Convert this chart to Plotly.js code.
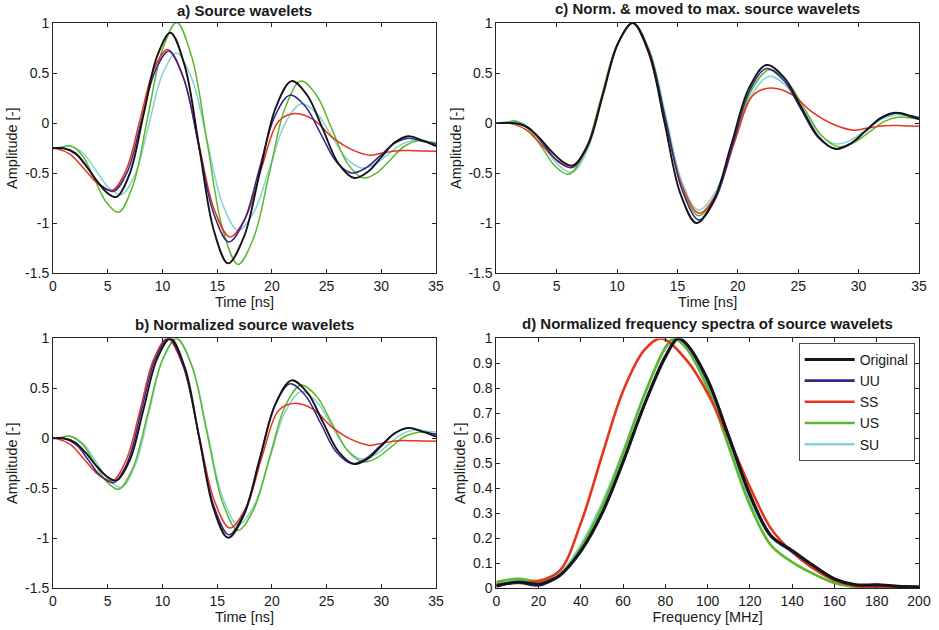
<!DOCTYPE html>
<html><head><meta charset="utf-8">
<script src="https://cdn.plot.ly/plotly-3.0.1.min.js"></script>
<style>html,body{margin:0;padding:0;background:#fff}#chart{width:939px;height:630px}</style>
</head><body><div id="chart"></div>
<script>
// ---------- tick labels ----------
const timeTicks = [0,5,10,15,20,25,30,35];
const timeTickText = ['0','5','10','15','20','25','30','35'];
const ampTicks = [-1.5,-1,-0.5,0,0.5,1];
const ampTickText = ['-1.5','-1','-0.5','0','0.5','1'];
const freqTicks = [0,20,40,60,80,100,120,140,160,180,200];
const freqTickText = ['0','20','40','60','80','100','120','140','160','180','200'];
const specTicks = [0,0.1,0.2,0.3,0.4,0.5,0.6,0.7,0.8,0.9,1];
const specTickText = ['0','0.1','0.2','0.3','0.4','0.5','0.6','0.7','0.8','0.9','1'];

// ---------- a) Source wavelets ----------
const tA_Orig = [0,1,2,3,4,5,5.8,7.03,8.27,9.5,10.73,12.05,13.37,14.68,16.0,17.45,18.9,20.35,21.8,23.23,24.67,26.1,27.53,28.77,30.0,31.24,32.47,33.7,35];
const vA_Orig = [-0.25,-0.252,-0.295,-0.42,-0.575,-0.70,-0.737,-0.498,0.083,0.664,0.903,0.567,-0.249,-1.064,-1.40,-1.134,-0.49,0.154,0.42,0.279,-0.063,-0.406,-0.547,-0.486,-0.339,-0.191,-0.13,-0.17,-0.23];
const tA_UU = [0,1.0,2.14,3.28,4.41,5.55,6.81,8.07,9.32,10.58,11.95,13.33,14.7,16.07,17.47,18.86,20.26,21.65,23.06,24.48,25.89,27.3,28.6,29.9,31.2,32.5,33.7,35];
const vA_UU = [-0.25,-0.25,-0.314,-0.469,-0.623,-0.68,-0.482,0.017,0.515,0.72,0.442,-0.234,-0.909,-1.187,-0.973,-0.454,0.066,0.28,0.167,-0.109,-0.384,-0.497,-0.446,-0.324,-0.201,-0.15,-0.18,-0.21];
const tA_SS = [0,0.3,1.58,2.87,4.15,5.43,6.69,7.95,9.2,10.46,11.89,13.31,14.74,16.16,17.65,19.13,20.62,22.1,23.8,25.5,27.2,28.96,30.0,31.5,33,35];
const vA_SS = [-0.25,-0.252,-0.311,-0.46,-0.609,-0.67,-0.465,0.033,0.531,0.736,0.463,-0.2,-0.864,-1.137,-0.93,-0.42,0.02,0.096,0.035,-0.14,-0.259,-0.32,-0.30,-0.275,-0.275,-0.28];
const tA_US = [0,0.8,1.55,2.66,3.78,4.89,6.0,7.33,8.65,9.98,11.3,12.7,14.1,15.5,16.9,18.34,19.78,21.21,22.65,24.08,25.5,26.93,28.36,29.62,30.88,32.14,33.4,34.2,35];
const vA_US = [-0.25,-0.24,-0.224,-0.321,-0.557,-0.793,-0.89,-0.613,0.058,0.729,1.006,0.653,-0.202,-1.057,-1.41,-1.143,-0.495,0.153,0.42,0.279,-0.064,-0.406,-0.547,-0.493,-0.36,-0.228,-0.174,-0.182,-0.20];
const tA_SU = [0,0.8,1.6,2.76,3.93,5.09,6.25,7.51,8.77,10.02,11.28,12.69,14.1,15.51,16.92,18.37,19.81,21.26,22.7,24.08,25.45,26.83,28.2,29.43,30.65,31.88,33.1,34,35];
const vA_SU = [-0.25,-0.24,-0.23,-0.30,-0.472,-0.643,-0.714,-0.508,-0.007,0.494,0.70,0.442,-0.185,-0.812,-1.07,-0.886,-0.439,0.009,0.193,0.10,-0.127,-0.354,-0.447,-0.407,-0.309,-0.21,-0.17,-0.18,-0.19];

// ---------- b) Normalized source wavelets ----------
const vB_Orig = [0,-0.002,-0.039,-0.147,-0.282,-0.39,-0.422,-0.215,0.289,0.793,1.0,0.708,0.001,-0.706,-0.997,-0.767,-0.208,0.35,0.581,0.459,0.162,-0.135,-0.258,-0.205,-0.077,0.051,0.104,0.069,0.017];
const vB_UU = [0,0,-0.066,-0.226,-0.385,-0.443,-0.239,0.275,0.789,1.0,0.713,0.016,-0.679,-0.966,-0.745,-0.21,0.326,0.546,0.43,0.146,-0.138,-0.254,-0.202,-0.076,0.05,0.103,0.072,0.041];
const vB_SS = [0,-0.002,-0.062,-0.213,-0.364,-0.426,-0.218,0.279,0.792,1.0,0.723,0.05,-0.623,-0.9,-0.69,-0.172,0.279,0.351,0.289,0.112,-0.009,-0.071,-0.051,-0.025,-0.025,-0.03];
const vB_US = [0,0.008,0.021,-0.057,-0.244,-0.432,-0.51,-0.289,0.245,0.779,1.0,0.719,0.038,-0.643,-0.924,-0.711,-0.195,0.321,0.533,0.421,0.148,-0.124,-0.236,-0.193,-0.088,0.018,0.061,0.054,0.04];
const vB_SU = [0,0.011,0.021,-0.053,-0.235,-0.416,-0.491,-0.273,0.257,0.787,1.0,0.732,0.069,-0.595,-0.868,-0.673,-0.2,0.274,0.469,0.37,0.13,-0.11,-0.208,-0.166,-0.063,0.042,0.085,0.074,0.063];

// ---------- c) Norm. & moved to max. ----------
const tC_Orig = [0,0.57,1.57,2.57,3.57,4.57,5.57,6.37,7.6,8.84,10.07,11.3,12.62,13.94,15.25,16.57,18.02,19.47,20.92,22.37,23.8,25.24,26.67,28.1,29.34,30.57,31.81,33.04,34.27,35];
const vC_Orig = [0,0,-0.002,-0.039,-0.147,-0.282,-0.39,-0.422,-0.215,0.289,0.793,1.0,0.708,0.001,-0.706,-0.997,-0.767,-0.208,0.35,0.581,0.459,0.162,-0.135,-0.258,-0.205,-0.077,0.051,0.104,0.069,0.04];
const tC_UU = [0,0.72,1.72,2.86,4.0,5.13,6.27,7.53,8.79,10.04,11.3,12.67,14.05,15.42,16.79,18.19,19.58,20.98,22.37,23.78,25.2,26.61,28.02,29.32,30.62,31.92,33.22,34.42,35];
const vC_UU = [0,0,0,-0.066,-0.226,-0.385,-0.443,-0.239,0.275,0.789,1.0,0.713,0.016,-0.679,-0.966,-0.745,-0.21,0.326,0.546,0.43,0.146,-0.138,-0.254,-0.202,-0.076,0.05,0.103,0.072,0.055];
const tC_SS = [0,0.84,1.14,2.42,3.71,4.99,6.27,7.53,8.79,10.04,11.3,12.53,13.95,15.38,16.8,18.29,19.77,21.26,22.74,24.44,26.14,27.84,29.6,30.64,32.14,33.64,35];
const vC_SS = [0,0,-0.002,-0.062,-0.213,-0.364,-0.426,-0.218,0.279,0.792,1.0,0.723,0.05,-0.623,-0.9,-0.69,-0.172,0.279,0.351,0.289,0.112,-0.009,-0.071,-0.051,-0.025,-0.025,-0.03];
const tC_US = [0,0.8,1.55,2.66,3.78,4.89,6.0,7.33,8.65,9.98,11.3,12.66,14.02,15.38,16.75,18.2,19.65,21.1,22.6,24.05,25.5,26.93,28.3,29.6,30.88,32.14,33.35,34.2,35];
const vC_US = [0,0.008,0.021,-0.057,-0.244,-0.432,-0.51,-0.289,0.245,0.779,1.0,0.719,0.038,-0.643,-0.924,-0.711,-0.195,0.321,0.533,0.421,0.148,-0.124,-0.236,-0.193,-0.088,0.018,0.061,0.054,0.04];
const tC_SU = [0,0.82,1.62,2.78,3.95,5.11,6.27,7.53,8.79,10.04,11.3,12.67,14.04,15.4,16.75,18.2,19.65,21.1,22.6,24.02,25.42,26.8,28.15,29.4,30.65,31.88,33.1,34,35];
const vC_SU = [0,0.011,0.021,-0.053,-0.235,-0.416,-0.491,-0.273,0.257,0.787,1.0,0.732,0.069,-0.595,-0.868,-0.673,-0.2,0.274,0.469,0.37,0.13,-0.11,-0.208,-0.166,-0.063,0.042,0.085,0.074,0.063];

// ---------- d) Normalized frequency spectra ----------
const fD_Orig = [0,10,20,25,30,40,50,60,70,80,86,90,100,110,120,130,140,150,160,170,180,190,200];
const sD_Orig = [0.007,0.024,0.015,0.028,0.05,0.148,0.298,0.505,0.733,0.926,1.0,0.978,0.835,0.606,0.375,0.208,0.15,0.09,0.037,0.013,0.013,0.007,0.004];
const fD_UU = [0,10,20,25,30,40,50,60,70,80,86,90,100,110,120,130,140,150,160,170,180,190,200];
const sD_UU = [0.01,0.022,0.01,0.025,0.05,0.148,0.3,0.507,0.735,0.93,1.0,0.978,0.83,0.61,0.37,0.21,0.147,0.09,0.036,0.012,0.012,0.007,0.004];
const fD_SS = [0,10,20,30,40,50,60,70,78,90,100,110,120,130,140,150,160,170,180,190,200];
const sD_SS = [0.015,0.02,0.028,0.07,0.26,0.53,0.79,0.953,1.0,0.913,0.78,0.6,0.405,0.238,0.144,0.078,0.031,0.008,0.004,0.004,0.004];
const fD_US = [0,10,20,30,40,50,60,70,80,84,90,100,110,120,130,140,150,160,170,180,190,200];
const sD_US = [0.024,0.037,0.028,0.05,0.162,0.325,0.54,0.773,0.964,1.0,0.96,0.8,0.566,0.332,0.171,0.104,0.057,0.02,0.004,0.003,0.003,0.003];
const fD_SU = [0,10,20,30,40,50,60,70,80,85,90,100,110,120,130,140,150,160,170,180,190,200];
const sD_SU = [0.015,0.028,0.024,0.057,0.171,0.338,0.545,0.773,0.96,1.0,0.967,0.813,0.586,0.352,0.205,0.144,0.078,0.028,0.004,0.003,0.002,0.0];

const seriesNames = ['SU','US','SS','UU','Original'];   // drawing order (Original on top)
const seriesColors = {Original:'#151515', UU:'#36268c', SS:'#e8341f', US:'#5cb82c', SU:'#86d2d4'};

const panelA = {Original:[tA_Orig,vA_Orig], UU:[tA_UU,vA_UU], SS:[tA_SS,vA_SS], US:[tA_US,vA_US], SU:[tA_SU,vA_SU]};
const panelB = {Original:[tA_Orig,vB_Orig], UU:[tA_UU,vB_UU], SS:[tA_SS,vB_SS], US:[tA_US,vB_US], SU:[tA_SU,vB_SU]};
const panelC = {Original:[tC_Orig,vC_Orig], UU:[tC_UU,vC_UU], SS:[tC_SS,vC_SS], US:[tC_US,vC_US], SU:[tC_SU,vC_SU]};
const panelD = {Original:[fD_Orig,sD_Orig], UU:[fD_UU,sD_UU], SS:[fD_SS,sD_SS], US:[fD_US,sD_US], SU:[fD_SU,sD_SU]};

const FONT = 'Liberation Sans, Arial, Helvetica, sans-serif';
const traces = [];
function addPanel(panel, xa, ya, legend, w) {
  seriesNames.forEach(n => {
    traces.push({
      type:'scatter', mode:'lines', name:n,
      x: panel[n][0], y: panel[n][1],
      xaxis: xa, yaxis: ya,
      showlegend: legend,
      line: {color: seriesColors[n], width: n==='Original' ? w+0.4 : w, shape:'spline', smoothing:1},
      hoverinfo:'x+y+name'
    });
  });
}
addPanel(panelA, 'x', 'y', false, 1.5);
addPanel(panelC, 'x2', 'y2', false, 1.5);
addPanel(panelB, 'x3', 'y3', false, 1.5);
addPanel(panelD, 'x4', 'y4', true, 2.6);

function ax(extra) {
  return Object.assign({
    showline:true, linecolor:'#262626', linewidth:1, mirror:'ticks',
    ticks:'inside', ticklen:4, tickcolor:'#262626', tickwidth:1,
    showgrid:false, zeroline:false, fixedrange:true,
    tickfont:{family:FONT, size:14, color:'#1a1a1a'}
  }, extra);
}
function ttl(text) { return {text:text, standoff:3, font:{family:FONT, size:14.5, color:'#1a1a1a'}}; }

const xTop = [0.5568, 1];
const xBot = [0, 0.4416];
const TFONT = {family:FONT, size:15, color:'#1a1a1a'};
const layout = {
  width:939, height:630,
  margin:{l:53, r:20, t:23, b:42},
  paper_bgcolor:'#fff', plot_bgcolor:'#fff',
  font:{family:FONT, size:14, color:'#1a1a1a'},
  xaxis: ax({domain:[0,0.4423], range:[0,35], tickvals:timeTicks, ticktext:timeTickText, anchor:'y', title:ttl('Time [ns]')}),
  yaxis: ax({domain:xTop, range:[-1.5,1], tickvals:ampTicks, ticktext:ampTickText, anchor:'x', title:ttl('Amplitude [-]')}),
  xaxis2: ax({domain:[0.5119,1], range:[0,35], tickvals:timeTicks, ticktext:timeTickText, anchor:'y2', title:ttl('Time [ns]')}),
  yaxis2: ax({domain:xTop, range:[-1.5,1], tickvals:ampTicks, ticktext:ampTickText, anchor:'x2', title:ttl('Amplitude [-]')}),
  xaxis3: ax({domain:[0,0.4423], range:[0,35], tickvals:timeTicks, ticktext:timeTickText, anchor:'y3', title:ttl('Time [ns]')}),
  yaxis3: ax({domain:xBot, range:[-1.5,1], tickvals:ampTicks, ticktext:ampTickText, anchor:'x3', title:ttl('Amplitude [-]')}),
  xaxis4: ax({domain:[0.5119,1], range:[0,200], tickvals:freqTicks, ticktext:freqTickText, anchor:'y4', title:ttl('Frequency [MHz]')}),
  yaxis4: ax({domain:xBot, range:[0,1], tickvals:specTicks, ticktext:specTickText, anchor:'x4', title:ttl('Amplitude [-]')}),
  showlegend:true,
  legend:{x:0.995, y:0.434, xanchor:'right', yanchor:'top', traceorder:'reversed',
          bgcolor:'#fff', bordercolor:'#4a4a4a', borderwidth:1,
          font:{family:FONT, size:14, color:'#1a1a1a'}, itemwidth:50},
  annotations:[
    {text:'<b>a) Source wavelets</b>', xref:'paper', yref:'paper', x:0.2211, y:1.023, xanchor:'center', yanchor:'middle', showarrow:false, font:TFONT},
    {text:'<b>c) Norm. &amp; moved to max. source wavelets</b>', xref:'paper', yref:'paper', x:0.7552, y:1.025, xanchor:'center', yanchor:'middle', showarrow:false, font:TFONT},
    {text:'<b>b) Normalized source wavelets</b>', xref:'paper', yref:'paper', x:0.2211, y:0.4664, xanchor:'center', yanchor:'middle', showarrow:false, font:TFONT},
    {text:'<b>d) Normalized frequency spectra of source wavelets</b>', xref:'paper', yref:'paper', x:0.7552, y:0.469, xanchor:'center', yanchor:'middle', showarrow:false, font:TFONT}
  ]
};
Plotly.newPlot('chart', traces, layout, {displayModeBar:false, staticPlot:true});
</script>
</body></html>
